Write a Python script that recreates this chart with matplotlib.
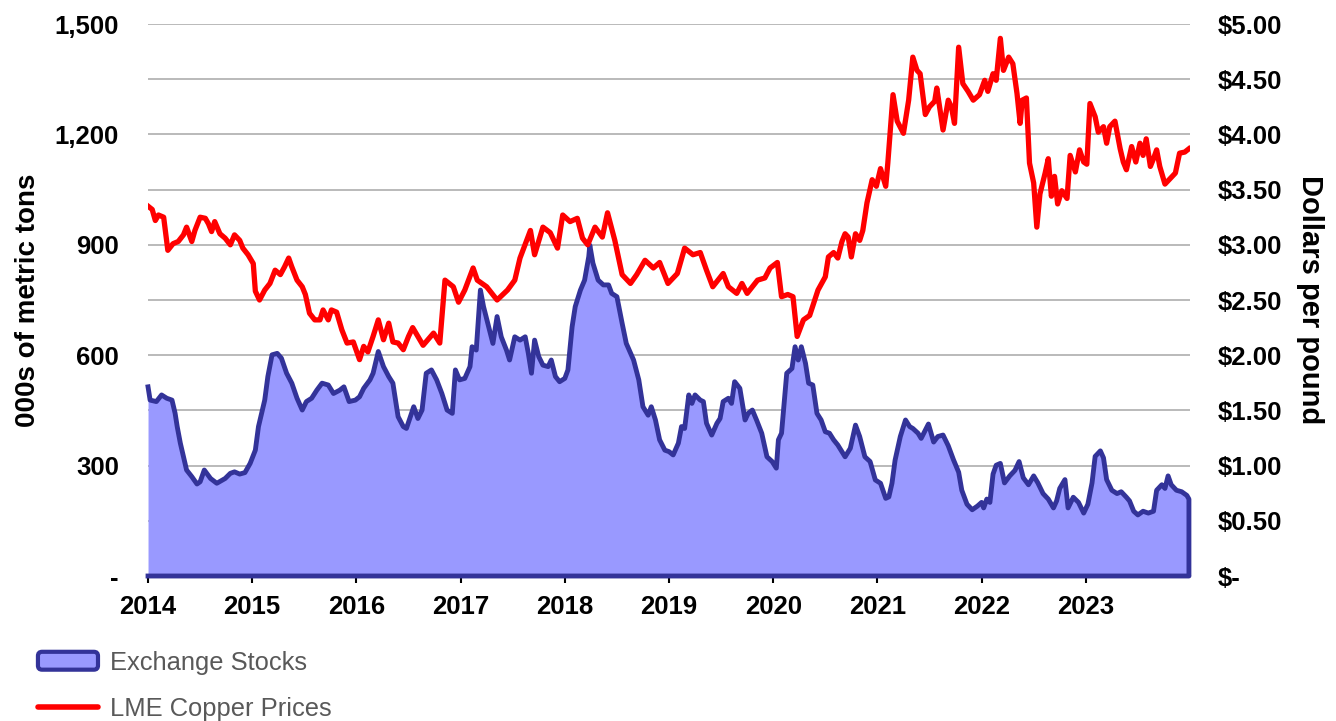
import matplotlib
matplotlib.use('Agg')
import matplotlib.pyplot as plt
from matplotlib.patches import Patch, FancyBboxPatch
from matplotlib.lines import Line2D
from matplotlib.legend_handler import HandlerPatch

plt.rcParams['font.family'] = ['Liberation Sans', 'DejaVu Sans']

# exchange stocks, 000s of metric tons
stock_dates = [2014.00, 2014.02, 2014.08, 2014.13, 2014.18, 2014.23, 2014.26, 2014.28, 2014.31, 2014.34,
               2014.37, 2014.42, 2014.47, 2014.50, 2014.54, 2014.60, 2014.66, 2014.74, 2014.79, 2014.83,
               2014.88, 2014.93, 2014.98, 2015.03, 2015.06, 2015.09, 2015.12, 2015.15, 2015.19, 2015.24,
               2015.28, 2015.33, 2015.38, 2015.43, 2015.48, 2015.52, 2015.57, 2015.62, 2015.67, 2015.73,
               2015.78, 2015.84, 2015.88, 2015.93, 2015.99, 2016.03, 2016.07, 2016.13, 2016.16, 2016.21,
               2016.26, 2016.31, 2016.35, 2016.40, 2016.45, 2016.48, 2016.55, 2016.59, 2016.63, 2016.67,
               2016.72, 2016.77, 2016.82, 2016.87, 2016.92, 2016.95, 2016.99, 2017.04, 2017.09, 2017.11,
               2017.15, 2017.19, 2017.22, 2017.27, 2017.31, 2017.35, 2017.39, 2017.44, 2017.47, 2017.52,
               2017.57, 2017.62, 2017.65, 2017.68, 2017.71, 2017.75, 2017.79, 2017.84, 2017.87, 2017.91,
               2017.95, 2018.00, 2018.03, 2018.07, 2018.10, 2018.15, 2018.19, 2018.23, 2018.24, 2018.27,
               2018.32, 2018.37, 2018.42, 2018.45, 2018.50, 2018.55, 2018.59, 2018.66, 2018.71, 2018.75,
               2018.80, 2018.83, 2018.87, 2018.91, 2018.96, 2019.00, 2019.04, 2019.09, 2019.12, 2019.15,
               2019.19, 2019.22, 2019.25, 2019.30, 2019.33, 2019.36, 2019.41, 2019.46, 2019.49, 2019.52,
               2019.57, 2019.60, 2019.63, 2019.68, 2019.73, 2019.76, 2019.80, 2019.84, 2019.89, 2019.94,
               2019.99, 2020.03, 2020.05, 2020.08, 2020.13, 2020.18, 2020.21, 2020.24, 2020.27, 2020.31,
               2020.34, 2020.38, 2020.42, 2020.46, 2020.50, 2020.54, 2020.58, 2020.62, 2020.69, 2020.74,
               2020.79, 2020.83, 2020.88, 2020.93, 2020.98, 2021.03, 2021.08, 2021.11, 2021.14, 2021.17,
               2021.22, 2021.27, 2021.31, 2021.34, 2021.39, 2021.42, 2021.49, 2021.54, 2021.58, 2021.63,
               2021.68, 2021.73, 2021.78, 2021.81, 2021.86, 2021.91, 2021.96, 2022.00, 2022.02, 2022.05,
               2022.08, 2022.11, 2022.14, 2022.18, 2022.22, 2022.27, 2022.32, 2022.36, 2022.40, 2022.45,
               2022.50, 2022.54, 2022.59, 2022.64, 2022.69, 2022.72, 2022.75, 2022.80, 2022.83, 2022.88,
               2022.93, 2022.98, 2023.02, 2023.06, 2023.09, 2023.14, 2023.17, 2023.20, 2023.25, 2023.30,
               2023.34, 2023.39, 2023.42, 2023.46, 2023.50, 2023.55, 2023.60, 2023.65, 2023.68, 2023.73,
               2023.76, 2023.79, 2023.82, 2023.87, 2023.92, 2023.97, 2023.99]
stocks = [514, 478, 474, 492, 483, 478, 442, 406, 361, 324,
          288, 270, 250, 256, 288, 265, 252, 265, 279, 283,
          277, 281, 306, 342, 406, 442, 478, 542, 601, 605,
          592, 551, 524, 483, 451, 474, 483, 505, 524, 519,
          496, 505, 514, 474, 478, 487, 510, 533, 551, 610,
          569, 542, 524, 433, 406, 401, 460, 428, 451, 551,
          560, 533, 496, 451, 442, 560, 533, 537, 569, 623,
          614, 777, 732, 677, 632, 705, 650, 614, 587, 650,
          641, 650, 605, 551, 641, 596, 573, 569, 587, 542,
          528, 537, 560, 677, 732, 777, 804, 868, 899, 850,
          804, 791, 791, 768, 759, 687, 632, 587, 533, 460,
          437, 460, 424, 370, 342, 338, 329, 361, 406, 401,
          492, 469, 492, 478, 474, 415, 383, 415, 428, 474,
          483, 469, 528, 510, 424, 442, 451, 424, 388, 324,
          311, 293, 370, 388, 551, 564, 623, 587, 623, 578,
          524, 519, 442, 424, 392, 388, 370, 356, 324, 347,
          410, 379, 324, 311, 261, 252, 211, 215, 252, 315,
          379, 424, 406, 401, 388, 374, 413, 364, 379, 383,
          354, 316, 282, 233, 195, 180, 190, 200, 185, 209,
          200, 277, 301, 306, 253, 272, 287, 311, 267, 248,
          272, 253, 224, 209, 185, 204, 238, 262, 185, 214,
          200, 171, 195, 253, 325, 340, 321, 262, 233, 224,
          229, 214, 204, 176, 166, 176, 171, 176, 233, 248,
          238, 272, 248, 233, 229, 219, 209]

# LME copper price, dollars per pound
price_dates = [2014.00, 2014.04, 2014.07, 2014.10, 2014.15, 2014.19, 2014.24, 2014.29, 2014.34, 2014.37,
               2014.42, 2014.45, 2014.50, 2014.55, 2014.58, 2014.61, 2014.64, 2014.69, 2014.74, 2014.79,
               2014.83, 2014.88, 2014.91, 2014.96, 2015.01, 2015.03, 2015.07, 2015.12, 2015.17, 2015.22,
               2015.27, 2015.31, 2015.35, 2015.38, 2015.43, 2015.48, 2015.51, 2015.55, 2015.60, 2015.65,
               2015.68, 2015.73, 2015.76, 2015.81, 2015.86, 2015.91, 2015.97, 2016.03, 2016.07, 2016.11,
               2016.16, 2016.21, 2016.26, 2016.31, 2016.35, 2016.40, 2016.45, 2016.50, 2016.54, 2016.64,
               2016.74, 2016.80, 2016.85, 2016.93, 2016.98, 2017.04, 2017.12, 2017.16, 2017.25, 2017.35,
               2017.45, 2017.52, 2017.57, 2017.67, 2017.71, 2017.79, 2017.86, 2017.93, 2017.98, 2018.05,
               2018.12, 2018.17, 2018.22, 2018.29, 2018.36, 2018.41, 2018.48, 2018.55, 2018.63, 2018.69,
               2018.77, 2018.85, 2018.91, 2018.99, 2019.08, 2019.15, 2019.23, 2019.30, 2019.36, 2019.42,
               2019.52, 2019.57, 2019.65, 2019.70, 2019.75, 2019.85, 2019.92, 2019.97, 2020.04, 2020.08,
               2020.14, 2020.19, 2020.23, 2020.29, 2020.35, 2020.43, 2020.50, 2020.53, 2020.58, 2020.62,
               2020.66, 2020.69, 2020.72, 2020.75, 2020.79, 2020.83, 2020.86, 2020.90, 2020.95, 2020.99,
               2021.03, 2021.08, 2021.10, 2021.15, 2021.19, 2021.25, 2021.30, 2021.34, 2021.38, 2021.41,
               2021.46, 2021.50, 2021.55, 2021.57, 2021.63, 2021.68, 2021.71, 2021.74, 2021.78, 2021.82,
               2021.87, 2021.92, 2021.98, 2022.03, 2022.06, 2022.11, 2022.14, 2022.18, 2022.21, 2022.26,
               2022.30, 2022.34, 2022.37, 2022.39, 2022.43, 2022.46, 2022.50, 2022.53, 2022.56, 2022.61,
               2022.64, 2022.67, 2022.70, 2022.73, 2022.77, 2022.82, 2022.85, 2022.90, 2022.94, 2022.98,
               2023.01, 2023.04, 2023.09, 2023.12, 2023.17, 2023.20, 2023.23, 2023.28, 2023.33, 2023.36,
               2023.39, 2023.44, 2023.48, 2023.52, 2023.55, 2023.58, 2023.62, 2023.65, 2023.68, 2023.71,
               2023.76, 2023.81, 2023.86, 2023.90, 2023.95, 2023.99]
prices = [3.35, 3.32, 3.22, 3.27, 3.25, 2.95, 3.01, 3.03, 3.09, 3.16,
          3.03, 3.13, 3.25, 3.24, 3.19, 3.12, 3.21, 3.10, 3.06, 3.00,
          3.09, 3.04, 2.97, 2.91, 2.83, 2.58, 2.50, 2.59, 2.65, 2.77,
          2.73, 2.80, 2.88, 2.80, 2.68, 2.62, 2.55, 2.38, 2.32, 2.32,
          2.41, 2.32, 2.41, 2.39, 2.23, 2.11, 2.12, 1.96, 2.08, 2.03,
          2.17, 2.32, 2.14, 2.29, 2.12, 2.11, 2.05, 2.17, 2.25, 2.09,
          2.20, 2.11, 2.68, 2.62, 2.48, 2.59, 2.79, 2.68, 2.62, 2.50,
          2.59, 2.68, 2.88, 3.13, 2.91, 3.16, 3.11, 2.97, 3.27, 3.21,
          3.24, 3.06, 3.00, 3.16, 3.07, 3.29, 3.04, 2.73, 2.65, 2.73,
          2.86, 2.79, 2.84, 2.65, 2.74, 2.97, 2.91, 2.93, 2.77, 2.62,
          2.74, 2.62, 2.56, 2.65, 2.56, 2.68, 2.70, 2.79, 2.84, 2.53,
          2.55, 2.53, 2.17, 2.32, 2.36, 2.59, 2.71, 2.89, 2.93, 2.88,
          3.03, 3.10, 3.07, 2.89, 3.10, 3.04, 3.13, 3.38, 3.59, 3.53,
          3.69, 3.53, 3.74, 4.36, 4.12, 4.01, 4.31, 4.70, 4.58, 4.55,
          4.18, 4.25, 4.30, 4.42, 4.04, 4.31, 4.25, 4.10, 4.79, 4.46,
          4.39, 4.31, 4.36, 4.49, 4.39, 4.55, 4.49, 4.87, 4.58, 4.70,
          4.64, 4.37, 4.10, 4.31, 4.33, 3.74, 3.56, 3.16, 3.46, 3.65,
          3.78, 3.44, 3.62, 3.37, 3.49, 3.42, 3.81, 3.66, 3.86, 3.75,
          3.73, 4.28, 4.16, 4.02, 4.07, 3.92, 4.07, 4.12, 3.87, 3.75,
          3.68, 3.89, 3.75, 3.92, 3.81, 3.96, 3.71, 3.78, 3.86, 3.71,
          3.55, 3.60, 3.65, 3.83, 3.84, 3.87]

years = list(range(2014, 2024))
stock_ticks = list(range(0, 1501, 150))
price_ticks = [i * 0.5 for i in range(11)]

fill_color = '#9999ff'
edge_color = '#333399'
red = '#ff0000'

fig = plt.figure(figsize=(13.36, 7.21), dpi=100)
ax1 = fig.add_axes([0.1108, 0.2011, 0.7799, 0.7656])

ax1.fill_between(stock_dates, stocks, 0, color=fill_color, lw=0, zorder=2)
# outline: top, right end, bottom (no left edge)
ax1.plot(stock_dates + [stock_dates[-1], stock_dates[0]], stocks + [0, 0],
         color=edge_color, lw=3.5, solid_joinstyle='round', zorder=3, clip_on=False)

ax1.set_xlim(2014, 2024)
ax1.set_ylim(0, 1500)
ax1.set_yticks(stock_ticks)
ax1.set_yticklabels(['-' if v == 0 else (f'{v:,}' if v % 300 == 0 else '') for v in stock_ticks])
ax1.yaxis.grid(True, color='#b4b4b4', lw=1.3, zorder=0)
ax1.set_axisbelow(True)
ax1.tick_params(axis='y', length=0, pad=21, labelsize=18.5)
for lab in ax1.get_yticklabels():
    lab.set_fontweight('bold')

ax1.set_xticks(years)
ax1.set_xticklabels([str(y) for y in years], fontsize=18.5, fontweight='bold')
ax1.tick_params(axis='x', direction='out', length=5, width=1.5, pad=9, color='black')

for s in ['top', 'left', 'right']:
    ax1.spines[s].set_visible(False)
ax1.spines['bottom'].set_color('black')
ax1.spines['bottom'].set_linewidth(1.5)

ax1.set_ylabel('000s of metric tons', fontsize=20, fontweight='bold', labelpad=10)

ax2 = ax1.twinx()
ax2.plot(price_dates, prices, color=red, lw=3.8, solid_joinstyle='round', zorder=4)
ax2.set_ylim(0, 5)
ax2.set_yticks(price_ticks)
ax2.set_yticklabels(['$-' if v == 0 else f'${v:.2f}' for v in price_ticks])
ax2.tick_params(axis='y', length=0, pad=20, labelsize=18.5)
for lab in ax2.get_yticklabels():
    lab.set_fontweight('bold')
for s in ['top', 'left', 'right', 'bottom']:
    ax2.spines[s].set_visible(False)
ax2.set_ylabel('Dollars per pound', fontsize=21, fontweight='bold', rotation=270, labelpad=30)


def rounded_box(legend, orig_handle, xdescent, ydescent, width, height, fontsize):
    return FancyBboxPatch((-xdescent, -ydescent), width, height,
                          boxstyle='round,pad=0,rounding_size=3')


handles = [Patch(facecolor=fill_color, edgecolor=edge_color, lw=3),
           Line2D([0], [0], color=red, lw=4, solid_capstyle='round')]
fig.legend(handles, ['Exchange Stocks', 'LME Copper Prices'], loc='center left',
           bbox_to_anchor=(0.0284, 0.049), frameon=False, fontsize=18.4, labelcolor='#595959',
           handlelength=2.35, handletextpad=0.47, labelspacing=0.86, borderpad=0, borderaxespad=0,
           handler_map={Patch: HandlerPatch(patch_func=rounded_box)})

fig.savefig('out.png', dpi=100)
